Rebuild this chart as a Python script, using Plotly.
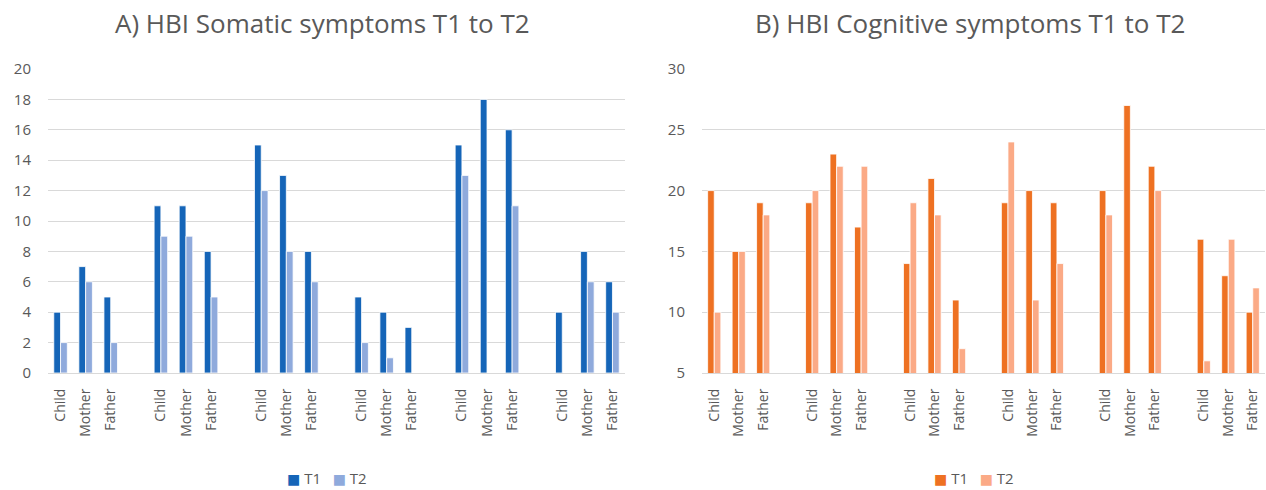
import plotly.graph_objects as go

# Categories: six family groups, each with child / mother / father scores
roles = ["Child", "Mother", "Father"]
n_groups = 6
series_names = ["T1", "T2"]

somatic_t1 = [4, 7, 5, 11, 11, 8, 15, 13, 8, 5, 4, 3, 15, 18, 16, 4, 8, 6]
somatic_t2 = [2, 6, 2, 9, 9, 5, 12, 8, 6, 2, 1, None, 13, None, 11, None, 6, 4]

cognitive_t1 = [20, 15, 19, 19, 23, 17, 14, 21, 11, 19, 20, 19, 20, 27, 22, 16, 13, 10]
cognitive_t2 = [10, 15, 18, 20, 22, 22, 19, 18, 7, 24, 11, 14, 18, None, 20, 6, 16, 12]

somatic_ticks = list(range(0, 21, 2))
cognitive_ticks = list(range(5, 31, 5))

# one empty slot separates consecutive groups
xpos = [g * 4 + r for g in range(n_groups) for r in range(len(roles))]
xlabels = roles * n_groups

FONT = "Open Sans"
GRAY = "#595959"
GRID = "#D9D9D9"

C_BLUE1, C_BLUE2 = "#1565B8", "#8FAADC"
C_ORG1, C_ORG2 = "#EE7122", "#FBAA86"

fig = go.Figure()


def add_bar(y, name, color, xa, ya):
    fig.add_trace(go.Bar(
        x=xpos, y=y, name=name, xaxis=xa, yaxis=ya, showlegend=False,
        offsetgroup=name, marker=dict(color=color, line=dict(color="white", width=0.8)),
    ))


add_bar(somatic_t1, series_names[0], C_BLUE1, "x", "y")
add_bar(somatic_t2, series_names[1], C_BLUE2, "x", "y")
add_bar(cognitive_t1, series_names[0], C_ORG1, "x2", "y2")
add_bar(cognitive_t2, series_names[1], C_ORG2, "x2", "y2")

xcommon = dict(
    tickmode="array", tickvals=xpos, ticktext=xlabels, tickangle=-90,
    range=[-0.5, 22.5], showgrid=False, zeroline=False,
    showline=True, linecolor=GRID, linewidth=1,
    ticks="", ticklabelstandoff=9, automargin=False,
    tickfont=dict(family=FONT, size=14, color=GRAY),
)
ycommon = dict(
    showgrid=True, gridcolor=GRID, gridwidth=1, zeroline=False,
    showline=False, ticks="", ticklabelstandoff=16, automargin=False,
    tickfont=dict(family=FONT, size=15, color=GRAY),
)

NB = "\u00a0"


def legend_text(c1, c2):
    # compact key: coloured square followed by the series name
    sq = "<span style='color:{};font-family:DejaVu Sans;font-size:14px'>■</span>"
    return (sq.format(c1) + NB + series_names[0] + NB * 3
            + sq.format(c2) + NB + series_names[1])


legend_font = dict(family=FONT, size=15, color=GRAY)
legend_y = (490 - 117 - 478) / 304  # key row sits near the bottom edge

fig.update_layout(
    width=1266, height=490,
    margin=dict(l=0, r=0, t=69, b=117),
    paper_bgcolor="white", plot_bgcolor="white",
    barmode="group", bargap=0.46, bargroupgap=0,
    font=dict(family=FONT, color=GRAY),
    xaxis=dict(domain=[48 / 1266, 625 / 1266], anchor="y", **xcommon),
    xaxis2=dict(domain=[702 / 1266, 1265 / 1266], anchor="y2", **xcommon),
    yaxis=dict(anchor="x", range=[0, 20], tickvals=somatic_ticks, **ycommon),
    yaxis2=dict(anchor="x2", range=[5, 30], tickvals=cognitive_ticks, **ycommon),
    annotations=[
        dict(text="A) HBI Somatic symptoms T1 to T2", x=322 / 1266, y=1.15,
             xref="paper", yref="paper", xanchor="center", yanchor="middle",
             showarrow=False, font=dict(family=FONT, size=26, color=GRAY)),
        dict(text="B) HBI Cognitive symptoms T1 to T2", x=970 / 1266, y=1.15,
             xref="paper", yref="paper", xanchor="center", yanchor="middle",
             showarrow=False, font=dict(family=FONT, size=26, color=GRAY)),
        dict(text=legend_text(C_BLUE1, C_BLUE2), x=327 / 1266, y=legend_y,
             xref="paper", yref="paper", xanchor="center", yanchor="middle",
             showarrow=False, font=legend_font),
        dict(text=legend_text(C_ORG1, C_ORG2), x=974 / 1266, y=legend_y,
             xref="paper", yref="paper", xanchor="center", yanchor="middle",
             showarrow=False, font=legend_font),
    ],
)

fig.write_html("out.html")
